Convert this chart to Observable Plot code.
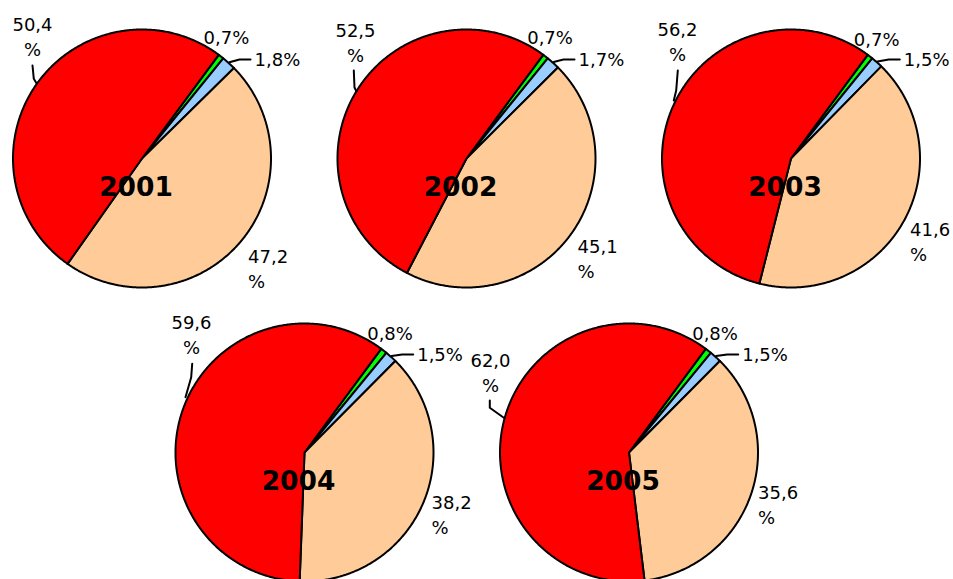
<!DOCTYPE html>
<html><head><meta charset="utf-8">
<script src="https://cdn.jsdelivr.net/npm/d3@7"></script>
<script src="https://cdn.jsdelivr.net/npm/@observablehq/plot@0.6"></script>
<style>body{margin:0;background:#fff;} svg{display:block;}</style>
</head><body><div id="chart"></div>
<script>
// ---- data ----
const years = ["2001", "2002", "2003", "2004", "2005"];
const categories = ["green", "blue", "peach", "red"];
const greenValues = [0.7, 0.7, 0.7, 0.8, 0.8];
const blueValues = [1.8, 1.7, 1.5, 1.5, 1.5];
const peachValues = [47.2, 45.1, 41.6, 38.2, 35.6];
const redValues = [50.4, 52.5, 56.2, 59.6, 62.0];
const colors = ["#00ff00", "#99ccff", "#ffcc99", "#ff0000"];

// ---- layout ----
const W = 953, H = 579, R = 129;
const centers = [[141.5, 158], [466, 158], [790.5, 158], [304, 452], [628.5, 452]];
const startDeg = 36.5;
const redLabelOff = [[-109.5, -103], [-111, -97], [-113.5, -98], [-113, -99], [-138.5, -61]];
const redLeader = [
  [[-109.5, -93], [-108.2, -79.7], [-105.5, -75.3]],
  [[-112.7, -88], [-112, -71], [-110, -67]],
  [[-113.2, -88], [-114.8, -68], [-117.2, -58]],
  [[-112.3, -88.7], [-113.3, -75.3], [-119, -55.3]],
  [[-139.2, -52], [-139.2, -44.7], [-125.2, -34.7]]
];
const peachLabelOff = [[106, 129], [111, 119], [119, 102], [127, 81], [129, 71]];
const greenLabelOff = [[61.5, -114.7], [60.7, -115], [62.8, -113], [62.7, -112.7], [63.2, -112.7]];
const blueLabelOff = [[112.5, -93], [112, -93], [112.8, -93], [112.7, -92], [113.2, -92]];

const fmt = v => v.toFixed(1).replace(".", ",");
const rad = d => d * Math.PI / 180;

const slices = [], pieLines = [], texts = [], redTexts = [], yearTexts = [];
years.forEach((yr, i) => {
  const vals = [greenValues[i], blueValues[i], peachValues[i], redValues[i]];
  const [cx, cy] = centers[i];
  const arcs = d3.pie().sort(null).startAngle(rad(startDeg)).endAngle(rad(startDeg) + 2 * Math.PI)(vals);
  arcs.forEach((a, k) => {
    const key = yr + "-" + categories[k];
    slices.push({key, cat: categories[k], x: cx, y: cy});
    const n = Math.max(2, Math.ceil((a.endAngle - a.startAngle) / rad(0.5)));
    for (let j = 0; j <= n; j++) {
      const t = a.startAngle + (a.endAngle - a.startAngle) * j / n;
      slices.push({key, cat: categories[k], x: cx + R * Math.sin(t), y: cy - R * Math.cos(t)});
    }
  });
  // labels
  yearTexts.push({x: cx - 6, y: cy + 37.5, text: yr});
  redTexts.push({x: cx + redLabelOff[i][0], y: cy + redLabelOff[i][1], text: fmt(redValues[i]) + "\n%"});
  texts.push({x: cx + peachLabelOff[i][0], y: cy + peachLabelOff[i][1], text: fmt(peachValues[i]) + "\n%"});
  texts.push({x: cx + greenLabelOff[i][0], y: cy + greenLabelOff[i][1], text: fmt(greenValues[i]) + "%"});
  texts.push({x: cx + blueLabelOff[i][0], y: cy + blueLabelOff[i][1], text: fmt(blueValues[i]) + "%"});
  // leader lines
  redLeader[i].forEach(([dx, dy]) => pieLines.push({key: yr + "r", x: cx + dx, y: cy + dy}));
  const bMid = (arcs[1].startAngle + arcs[1].endAngle) / 2;
  const [bx, by] = blueLabelOff[i];
  pieLines.push({key: yr + "b", x: cx + (R + 1) * Math.sin(bMid), y: cy - (R + 1) * Math.cos(bMid)});
  pieLines.push({key: yr + "b", x: cx + bx - 15, y: cy + by - 6});
  pieLines.push({key: yr + "b", x: cx + bx - 4, y: cy + by - 6});
});

const chart = Plot.plot({
  width: W, height: H,
  margin: 0,
  style: {background: "#fff", fontFamily: "'DejaVu Sans', Verdana, sans-serif"},
  x: {domain: [0, W], range: [0, W], axis: null},
  y: {domain: [0, H], range: [0, H], axis: null},
  color: {domain: categories, range: colors},
  marks: [
    Plot.line(slices, {x: "x", y: "y", z: "key", fill: "cat", stroke: "#000", strokeWidth: 2,
      strokeLinejoin: "round", curve: "linear-closed"}),
    Plot.line(pieLines, {x: "x", y: "y", z: "key", stroke: "#000", strokeWidth: 2, curve: "linear"}),
    Plot.text(yearTexts, {x: "x", y: "y", text: "text", textAnchor: "middle", lineAnchor: "bottom",
      fontSize: 26.5, fontWeight: "bold", fill: "#000"}),
    Plot.text(redTexts, {x: "x", y: "y", text: "text", textAnchor: "middle", lineAnchor: "bottom",
      fontSize: 18, lineHeight: 1.34, fill: "#000"}),
    Plot.text(texts, {x: "x", y: "y", text: "text", textAnchor: "start", lineAnchor: "bottom",
      fontSize: 18, lineHeight: 1.34, fill: "#000"})
  ]
});
document.getElementById("chart").appendChild(chart);
</script>
</body></html>
